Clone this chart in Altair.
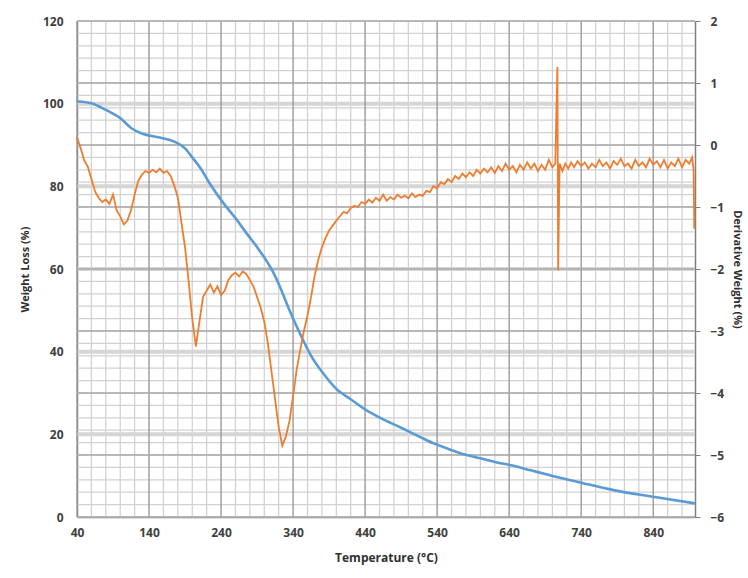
import altair as alt
import pandas as pd

# TGA weight loss curve (left axis)
tga_temp = [40, 60, 80, 100, 116, 130, 155, 175, 190, 200, 211, 225, 243, 260, 276, 290,
            303, 313, 322, 335, 350, 365, 382, 400, 420, 442, 461, 490, 516, 535, 555,
            572, 600, 628, 641, 670, 706, 740, 785, 840, 898]
tga_weight = [100.6, 100.1, 98.5, 96.5, 94.0, 92.8, 91.8, 90.8, 89.2, 87.0, 84.5, 80.5,
              76.0, 72.3, 68.5, 65.3, 62.0, 59.0, 55.6, 50.0, 44.2, 39.0, 34.7, 31.0,
              28.5, 25.8, 24.0, 21.6, 19.4, 17.8, 16.5, 15.4, 14.2, 13.0, 12.6, 11.3,
              9.7, 8.3, 6.5, 4.9, 3.3]

# DTG derivative weight curve (right axis)
dtg_temp = [40, 45, 50, 55, 60, 65, 70, 75, 80, 85, 90, 95, 100, 105, 110, 115, 120, 125,
            130, 135, 140, 145, 150, 155, 160, 165, 170, 175, 180, 185, 190, 195, 200,
            205, 210, 215, 220, 225, 230, 235, 240, 245, 250, 255, 260, 265, 270, 275,
            280, 285, 290, 295, 300, 305, 310, 315, 320, 325, 330, 335, 340, 345, 350,
            355, 360, 365, 370, 375, 380, 385, 390, 395, 400, 405, 410, 415, 420, 425,
            430, 435, 440, 445, 450, 455, 460, 465, 470, 475, 480, 485, 490, 495, 500,
            505, 510, 515, 520, 525, 530, 535, 540, 545, 550, 555, 560, 565, 570, 575,
            580, 585, 590, 595, 600, 605, 610, 615, 620, 625, 630, 635, 640, 645, 650,
            655, 660, 665, 670, 675, 680, 685, 690, 695, 700, 704, 707, 708, 710, 714,
            718, 722, 726, 730, 735, 740, 745, 750, 755, 760, 765, 770, 775, 780, 785,
            790, 795, 800, 805, 810, 815, 820, 825, 830, 835, 840, 845, 850, 855, 860,
            865, 870, 875, 880, 885, 890, 894, 896, 897]
dtg_value = [0.12, -0.05, -0.25, -0.35, -0.55, -0.75, -0.85, -0.92, -0.88, -0.95, -0.80,
             -1.05, -1.15, -1.28, -1.22, -1.05, -0.80, -0.58, -0.48, -0.42, -0.45, -0.40,
             -0.44, -0.38, -0.45, -0.42, -0.50, -0.65, -0.85, -1.25, -1.65, -2.20, -2.80,
             -3.25, -2.85, -2.45, -2.35, -2.25, -2.38, -2.28, -2.42, -2.35, -2.18, -2.10,
             -2.06, -2.12, -2.04, -2.08, -2.18, -2.28, -2.45, -2.62, -2.85, -3.20, -3.65,
             -4.10, -4.55, -4.85, -4.70, -4.45, -4.05, -3.62, -3.30, -3.00, -2.75, -2.45,
             -2.10, -1.85, -1.65, -1.50, -1.38, -1.30, -1.22, -1.15, -1.08, -1.10, -1.02,
             -0.98, -1.00, -0.92, -0.95, -0.88, -0.93, -0.85, -0.90, -0.80, -0.90, -0.84,
             -0.88, -0.80, -0.85, -0.82, -0.86, -0.78, -0.84, -0.80, -0.82, -0.74, -0.76,
             -0.66, -0.70, -0.60, -0.63, -0.55, -0.60, -0.50, -0.55, -0.46, -0.52, -0.44,
             -0.50, -0.40, -0.46, -0.38, -0.44, -0.36, -0.45, -0.34, -0.42, -0.30, -0.40,
             -0.34, -0.44, -0.32, -0.40, -0.28, -0.38, -0.30, -0.42, -0.32, -0.40, -0.24,
             -0.36, -0.30, 1.26, -2.02, -0.30, -0.42, -0.30, -0.38, -0.28, -0.36, -0.26,
             -0.34, -0.28, -0.38, -0.30, -0.36, -0.24, -0.34, -0.28, -0.38, -0.26, -0.32,
             -0.22, -0.34, -0.30, -0.38, -0.24, -0.34, -0.28, -0.36, -0.22, -0.32, -0.26,
             -0.36, -0.24, -0.38, -0.28, -0.34, -0.22, -0.36, -0.24, -0.30, -0.20, -0.40,
             -1.35]

x_ticks = [40, 140, 240, 340, 440, 540, 640, 740, 840]
x_minor = [t + d for t in [40, 140, 240, 340, 440, 540, 640, 740, 840] for d in (20, 40, 60, 80) if t + d < 898]
left_ticks = [0, 20, 40, 60, 80, 100, 120]
left_bands = [20, 40, 60, 80, 100]
right_ticks = [-6, -5, -4, -3, -2, -1, 0, 1, 2]
right_minor = [round(-6 + 0.2 * i, 1) for i in range(41)]

W, H = 618, 496
XDOM = [40, 898]
LDOM = [0, 120]
RDOM = [-6, 2]
FONT = "Open Sans"
LABEL_COLOR = "#404040"

tga = pd.DataFrame({"T": tga_temp, "W": tga_weight})
dtg = pd.DataFrame({"T": dtg_temp, "D": dtg_value})

x_axis = alt.Axis(values=x_ticks, title="Temperature (°C)", grid=False, ticks=False,
                  domainColor="#7f7f7f", domainWidth=1.5, labelFont=FONT, labelFontSize=12,
                  labelFontWeight="bold", labelColor=LABEL_COLOR, labelPadding=10,
                  titleFont=FONT, titleFontSize=12, titleFontWeight="bold",
                  titleColor="#303030", titlePadding=14, labelFlush=False)


def xenc(field):
    return alt.X(f"{field}:Q", scale=alt.Scale(domain=XDOM, nice=False, zero=False),
                 axis=x_axis)


def vrules(vals, color, width):
    return alt.Chart(pd.DataFrame({"v": vals})).mark_rule(color=color, strokeWidth=width).encode(
        x=xenc("v"), y=alt.value(0), y2=alt.value(H))


def hrules(vals, domain, color, width):
    return alt.Chart(pd.DataFrame({"h": vals})).mark_rule(color=color, strokeWidth=width).encode(
        x=alt.value(0), x2=alt.value(W),
        y=alt.Y("h:Q", scale=alt.Scale(domain=domain, nice=False, zero=False), axis=None))


minor_v = vrules(x_minor, "#cfcfcf", 1.2)
minor_h = hrules(right_minor, RDOM, "#d2d2d2", 1.2)
bands = hrules(left_bands, LDOM, "#d6d6d6", 4)
major_v = vrules(x_ticks, "#9a9a9a", 1.4)
major_h = hrules(right_ticks, RDOM, "#a8a8a8", 1.4)

blue = alt.Chart(tga).mark_line(color="#5b9bd5", strokeWidth=2.6, interpolate="monotone").encode(
    x=xenc("T"),
    y=alt.Y("W:Q", scale=alt.Scale(domain=LDOM, nice=False),
            axis=alt.Axis(orient="left", values=left_ticks, title="Weight Loss (%)", grid=False,
                          ticks=False, domainColor="#7f7f7f", domainWidth=1.5, labelFont=FONT,
                          labelFontSize=12, labelFontWeight="bold", labelColor=LABEL_COLOR,
                          labelPadding=14, titleFont=FONT, titleFontSize=11,
                          titleFontWeight="bold", titleColor="#303030", titlePadding=12)))

orange = alt.Chart(dtg).mark_line(color="#ed7d31", strokeWidth=1.8).encode(
    x=xenc("T"),
    y=alt.Y("D:Q", scale=alt.Scale(domain=RDOM, nice=False, zero=False),
            axis=alt.Axis(orient="right", values=right_ticks, title="Derivative Weight (%)",
                          grid=False, ticks=True, tickSize=5, tickColor="#7f7f7f",
                          domainColor="#7f7f7f", domainWidth=1.5, labelFont=FONT,
                          labelFontSize=12, labelFontWeight="bold", labelColor=LABEL_COLOR,
                          labelPadding=10, titleFont=FONT, titleFontSize=11,
                          titleFontWeight="bold", titleColor="#303030", titlePadding=8)))

chart = alt.layer(minor_v, minor_h, bands, major_v, major_h, blue, orange).resolve_scale(
    y="independent"
).properties(
    width=W, height=H,
    padding={"left": 77, "top": 21, "right": 53, "bottom": 61},
    autosize=alt.AutoSizeParams(type="none"),
    background="white",
).configure_view(stroke=None)

chart.save("out.html", embed_options={"renderer": "svg", "actions": False})
